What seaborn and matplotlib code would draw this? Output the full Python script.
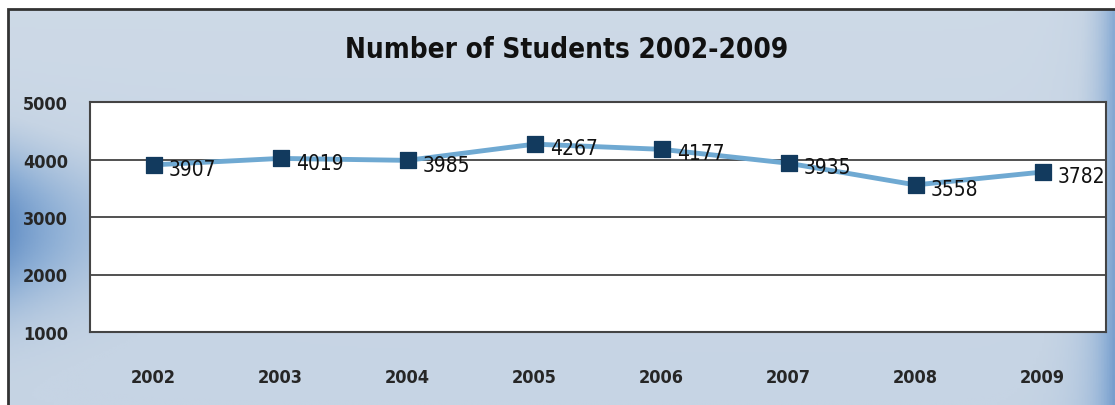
import matplotlib
matplotlib.use("Agg")
import matplotlib.pyplot as plt
import numpy as np
import pandas as pd
import seaborn as sns
from matplotlib.colors import LinearSegmentedColormap
from matplotlib.patches import Rectangle

YEARS = ["2002", "2003", "2004", "2005", "2006", "2007", "2008", "2009"]
STUDENTS = [3907, 4019, 3985, 4267, 4177, 3935, 3558, 3782]
Y_TICKS = [1000, 2000, 3000, 4000, 5000]
TITLE = "Number of Students 2002-2009"

LINE_COLOR = "#6fa9d2"
MARKER_COLOR = "#123a5e"

sns.set_style("white")
plt.rcParams["font.family"] = ["DejaVu Sans"]
plt.rcParams["font.stretch"] = "condensed"

df = pd.DataFrame({"year": YEARS, "students": STUDENTS})

W, H = 1115, 406
fig = plt.figure(figsize=(W / 100, H / 100), dpi=100)
fig.patch.set_facecolor("white")

# scanned-card background: pale blue-grey with a darker blue band on the left
bg = fig.add_axes([8 / W, 0, 1 - 8 / W, 1 - 10 / H], zorder=0)
yy, xx = np.mgrid[0:1:200j, 0:1:400j]
band = np.exp(-((yy - 0.55) / 0.2) ** 2) * np.exp(-(xx / 0.08)) * 0.8
right = np.exp(-((1 - xx) / 0.02)) * 0.6
field = 0.25 + 0.15 * yy + band + right
cmap = LinearSegmentedColormap.from_list("bg", ["#d9e2ec", "#c6d4e4", "#8fb0d6", "#5f8cc4"])
bg.imshow(field, cmap=cmap, vmin=0, vmax=1.2, aspect="auto", extent=[0, 1, 0, 1])
bg.set_axis_off()
fig.add_artist(Rectangle((8 / W, -0.01), 1, 1 - 10 / H + 0.01, transform=fig.transFigure,
                         fill=False, edgecolor="#333333", linewidth=2, zorder=1))

ax = fig.add_axes([90 / W, 73 / H, 1016 / W, 230 / H], zorder=2)
ax.set_facecolor("white")

sns.lineplot(data=df, x="year", y="students", color=LINE_COLOR, linewidth=3.5,
             sort=False, ax=ax, zorder=3)
sns.scatterplot(data=df, x="year", y="students", marker="s", s=130, color=MARKER_COLOR,
                edgecolor=MARKER_COLOR, ax=ax, zorder=4)

for i, v in enumerate(STUDENTS):
    ax.annotate(str(v), (i, v), xytext=(11, -3), textcoords="offset points",
                ha="left", va="center", fontsize=15, color="#111111", zorder=5)

ax.set_xlim(-0.5, len(YEARS) - 0.5)
ax.set_ylim(1000, 5000)
ax.set_yticks(Y_TICKS)
ax.set_yticklabels([str(t) for t in Y_TICKS], fontsize=13, fontweight="bold")
ax.set_xticks(range(len(YEARS)))
ax.set_xticklabels(YEARS, fontsize=13, fontweight="bold")
ax.tick_params(axis="y", length=0, pad=16)
ax.tick_params(axis="x", length=0, pad=26)
ax.set_xlabel("")
ax.set_ylabel("")
for t in Y_TICKS[1:-1]:
    ax.axhline(t, color="#333333", linewidth=1.2, zorder=1)
for s in ax.spines.values():
    s.set_color("#444444")
    s.set_linewidth(1.5)

fig.text(567 / W, 1 - 50 / H, TITLE, ha="center", va="center",
         fontsize=20, fontweight="bold", color="#111111")

fig.savefig("out.png", dpi=100)
